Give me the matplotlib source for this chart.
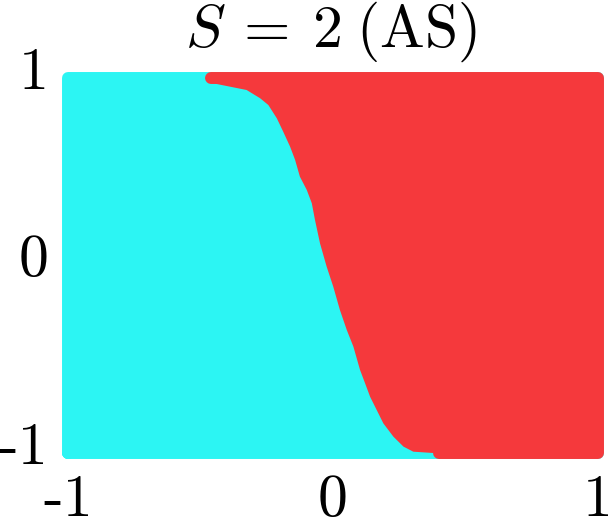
import numpy as np
import matplotlib.pyplot as plt
import matplotlib as mpl
from matplotlib.transforms import ScaledTranslation

mpl.rcParams['mathtext.fontset'] = 'cm'
mpl.rcParams['axes.unicode_minus'] = False

# visible edge of the red class region (top to bottom)
bnd_y = [1.0, 0.968, 0.936, 0.892, 0.856, 0.785, 0.714, 0.634, 0.563, 0.474,
         0.403, 0.332, 0.243, 0.118, -0.006, -0.113, -0.237, -0.344, -0.433,
         -0.557, -0.628, -0.700, -0.771, -0.842, -0.913, -0.966, -0.993, -1.0]
bnd_x = [-0.483, -0.439, -0.326, -0.275, -0.244, -0.212, -0.188, -0.162, -0.143,
         -0.125, -0.099, -0.080, -0.068, -0.049, -0.024, 0.001, 0.026, 0.052,
         0.077, 0.102, 0.121, 0.140, 0.165, 0.190, 0.228, 0.266, 0.303, 0.378]
red_top_start = -0.46
red_bottom_start = 0.40

ticks = [-1, 0, 1]
tick_labels = ['-1', '0', '1']
title = r'$S\:=\:2\;(\mathrm{AS})$'

cyan = '#2cf5f3'
red = '#f5393c'
lw = 8.6  # ~ marker diameter, makes the dots spill past the square

fig = plt.figure(figsize=(6.08, 5.24), dpi=100)
ax = fig.add_axes([68/608, 71/524, 530/608, 375/524])

# cyan square (whole domain) with spilling edge
sq_x = [-1, 1, 1, -1, -1]
sq_y = [-1, -1, 1, 1, -1]
ax.fill(sq_x, sq_y, color=cyan, lw=0, clip_on=False, zorder=1)
ax.plot(sq_x, sq_y, color=cyan, lw=lw, solid_joinstyle='round',
        solid_capstyle='round', clip_on=False, zorder=1)

# red region right of the boundary
rx = bnd_x + [1, 1]
ry = bnd_y + [-1, 1]
ax.fill(rx, ry, color=red, lw=0, clip_on=False, zorder=2)
ax.plot([red_top_start, 1, 1, red_bottom_start], [1, 1, -1, -1], color=red, lw=lw,
        solid_joinstyle='round', solid_capstyle='round', clip_on=False, zorder=2)

ax.set_xlim(-1, 1)
ax.set_ylim(-1, 1)
ax.set_xticks(ticks)
ax.set_yticks(ticks)
ax.set_xticklabels(tick_labels, fontfamily='cmr10', fontsize=43)
ax.set_yticklabels(tick_labels, fontfamily='cmr10', fontsize=43)
ax.tick_params(length=0)
ax.tick_params(axis='x', pad=15)
ax.tick_params(axis='y', pad=14)
up = ScaledTranslation(0, 10/100, fig.dpi_scale_trans)
for lab in ax.get_yticklabels():
    lab.set_transform(lab.get_transform() + up)
for s in ax.spines.values():
    s.set_visible(False)

fig.text(331/608, 1 - 47/524, title, fontsize=43, ha='center', va='baseline')

fig.savefig('out.png', dpi=100)
